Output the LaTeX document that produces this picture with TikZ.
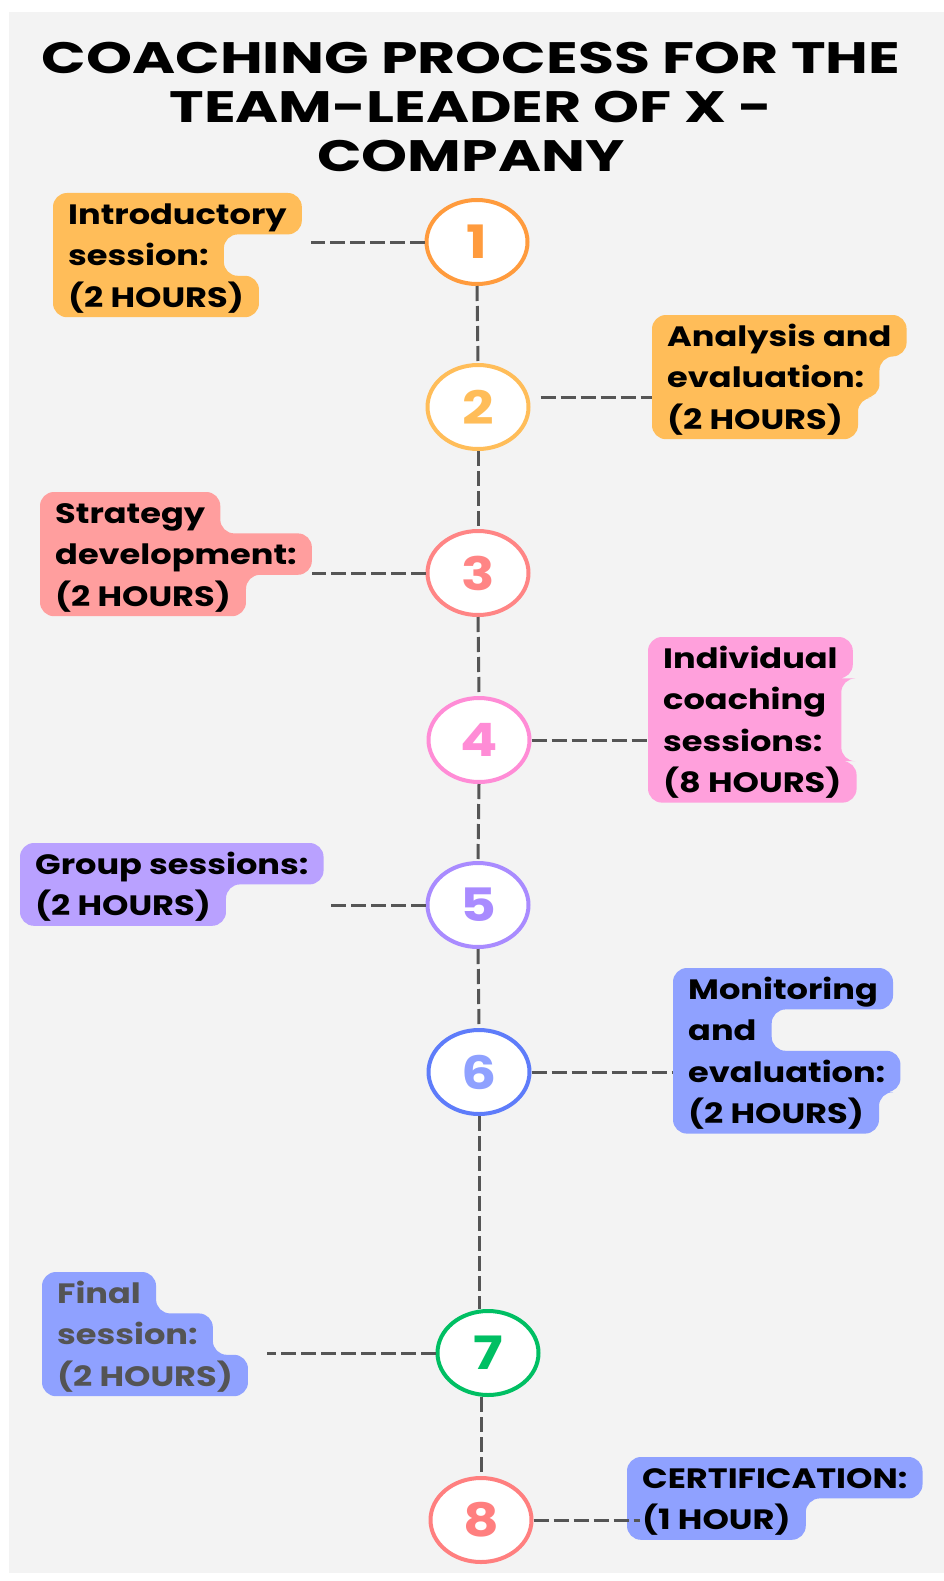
\documentclass[tikz,border=0pt]{standalone}
\usepackage{fontspec}
\setmainfont{Poppins}[FakeStretch=1.2]
\newfontfamily\titlefont{Poppins}[FakeStretch=1.33]
\usepackage{xcolor}
\usetikzlibrary{positioning,backgrounds,shapes.geometric}
\definecolor{bggray}{HTML}{F3F3F3}
\definecolor{linkgray}{HTML}{555555}
\definecolor{oneline}{HTML}{FF9B3D}
\definecolor{orangebg}{HTML}{FFBD59}
\definecolor{redbg}{HTML}{FF9E9E}
\definecolor{threeline}{HTML}{FF8585}
\definecolor{pinkbg}{HTML}{FFA0DC}
\definecolor{fourline}{HTML}{FF8CD6}
\definecolor{purplebg}{HTML}{B9A1FF}
\definecolor{fiveline}{HTML}{A98BFF}
\definecolor{bluebg}{HTML}{8FA1FF}
\definecolor{sixline}{HTML}{5E7CFA}
\definecolor{sevenline}{HTML}{00BF63}
\definecolor{eightline}{HTML}{FF7F7F}
\definecolor{greytext}{HTML}{545454}
\tikzset{
  stepnum/.style={ellipse,draw=#1,line width=4pt,fill=white,text=#1,
    minimum width=101pt,minimum height=84pt,inner sep=0pt,
    font=\fontsize{46}{46}\selectfont\bfseries},
  labline/.style={anchor=north west,inner xsep=15pt,inner ysep=0pt,
    text height=31pt,text depth=10pt,font=\fontsize{28}{34}\selectfont\bfseries},
  nextline/.style={labline,below right=0pt and 0pt of #1.south west},
  labfill/.style={fill=#1,rounded corners=14pt},
  link/.style={draw=linkgray,line width=3pt,dash pattern=on 15pt off 5pt},
}
\begin{document}
\begin{tikzpicture}[x=1pt,y=-1pt]
\useasboundingbox (0,0) rectangle (944,1581);
\begin{scope}[on background layer]
\fill[bggray] (9,12) rectangle (944,1573);
\end{scope}
\node[font=\titlefont\fontsize{44}{49}\selectfont\bfseries,align=center] (title) at (471,107)
  {COACHING PROCESS FOR THE\\TEAM-LEADER OF X -\\COMPANY};
% steps
\node[stepnum=oneline] (c1) at (477,242) {1};
\node[stepnum=orangebg] (c2) at (478,407) {2};
\node[stepnum=threeline] (c3) at (478,573) {3};
\node[stepnum=fourline] (c4) at (479,740) {4};
\node[stepnum=fiveline] (c5) at (478,905) {5};
\node[stepnum=sixline,text=bluebg] (c6) at (479,1072) {6};
\node[stepnum=sevenline] (c7) at (488,1353) {7};
\node[stepnum=eightline] (c8) at (481,1520) {8};
% labels
\node[labline] (l1a) at (53,193) {Introductory};
\node[nextline=l1a] (l1b) {session:};
\node[nextline=l1b] (l1c) {(2 HOURS)};
\node[labline] (l2a) at (652,315) {Analysis and};
\node[nextline=l2a] (l2b) {evaluation:};
\node[nextline=l2b] (l2c) {(2 HOURS)};
\node[labline] (l3a) at (40,492) {Strategy};
\node[nextline=l3a] (l3b) {development:};
\node[nextline=l3b] (l3c) {(2 HOURS)};
\node[labline] (l4a) at (648,637) {Individual};
\node[nextline=l4a] (l4b) {coaching};
\node[nextline=l4b] (l4c) {sessions:};
\node[nextline=l4c] (l4d) {(8 HOURS)};
\node[labline] (l5a) at (20,843) {Group sessions:};
\node[nextline=l5a] (l5b) {(2 HOURS)};
\node[labline] (l6a) at (673,968) {Monitoring};
\node[nextline=l6a] (l6b) {and};
\node[nextline=l6b] (l6c) {evaluation:};
\node[nextline=l6c] (l6d) {(2 HOURS)};
\node[labline,text=greytext] (l7a) at (42,1272) {Final};
\node[nextline=l7a,text=greytext] (l7b) {session:};
\node[nextline=l7b,text=greytext] (l7c) {(2 HOURS)};
\node[labline] (l8a) at (627,1457) {CERTIFICATION:};
\node[nextline=l8a] (l8b) {(1 HOUR)};
% connectors
\draw[link] (c1.south) -- (c2.north);
\draw[link] (c2.south) -- (c3.north);
\draw[link] (c3.south) -- (c4.north);
\draw[link] (c4.south) -- (c5.north);
\draw[link] (c5.south) -- (c6.north);
\draw[link] (c6.south) -- (c6.south |- c7.north);
\draw[link] (c8.north |- c7.south) -- (c8.north);
\draw[link,shorten >=9pt] (c1.west) -- (c1.west -| l1a.east);
\draw[link,shorten <=10pt] ([yshift=10pt]c2.east) -- ([yshift=10pt]c2.east -| l2a.west);
\draw[link] (c3.west) -- (c3.west -| l3b.east);
\draw[link] (c4.east) -- (c4.east -| l4a.west);
\draw[link,shorten >=5pt] (c5.west) -- (c5.west -| l5a.east);
\draw[link] (c6.east) -- (c6.east -| l6a.west);
\draw[link,shorten >=19pt] (c7.west) -- (c7.west -| l7c.east);
\draw[link,shorten >=-13pt] (c8.east) -- (c8.east -| l8b.west);
\begin{scope}[on background layer]
\fill[labfill=orangebg] (l1a.north west) -- (l1a.north east) -- (l1a.south east)
  -- (l1b.north east) -- (l1b.south east) -- (l1c.north east) -- (l1c.south east)
  -- (l1c.south west) -- cycle;
\fill[labfill=orangebg] (l2a.north west) -- (l2a.north east) -- (l2a.south east)
  -- (l2b.north east) -- (l2b.south east) -- (l2c.north east) -- (l2c.south east)
  -- (l2c.south west) -- cycle;
\fill[labfill=redbg] (l3a.north west) -- (l3a.north east) -- (l3a.south east)
  -- (l3b.north east) -- (l3b.south east) -- (l3c.north east) -- (l3c.south east)
  -- (l3c.south west) -- cycle;
\fill[labfill=pinkbg] (l4a.north west) -- (l4a.north east) -- (l4a.south east)
  -- (l4b.north east) -- (l4b.east |- l4c.south) -- (l4d.north east)
  -- (l4d.south east) -- (l4d.south west) -- cycle;
\fill[labfill=purplebg] (l5a.north west) -- (l5a.north east) -- (l5a.south east)
  -- (l5b.north east) -- (l5b.south east) -- (l5b.south west) -- cycle;
\fill[labfill=bluebg] (l6a.north west) -- (l6a.north east) -- (l6a.south east)
  -- (l6b.north east) -- (l6b.south east) -- (l6c.north east) -- (l6c.south east)
  -- (l6d.north east) -- (l6d.south east) -- (l6d.south west) -- cycle;
\fill[labfill=bluebg] (l7a.north west) -- (l7a.north east) -- (l7a.south east)
  -- (l7b.north east) -- (l7b.south east) -- (l7c.north east) -- (l7c.south east)
  -- (l7c.south west) -- cycle;
\fill[labfill=bluebg] (l8a.north west) -- (l8a.north east) -- (l8a.south east)
  -- (l8b.north east) -- (l8b.south east) -- (l8b.south west) -- cycle;
\end{scope}
\end{tikzpicture}
\end{document}
